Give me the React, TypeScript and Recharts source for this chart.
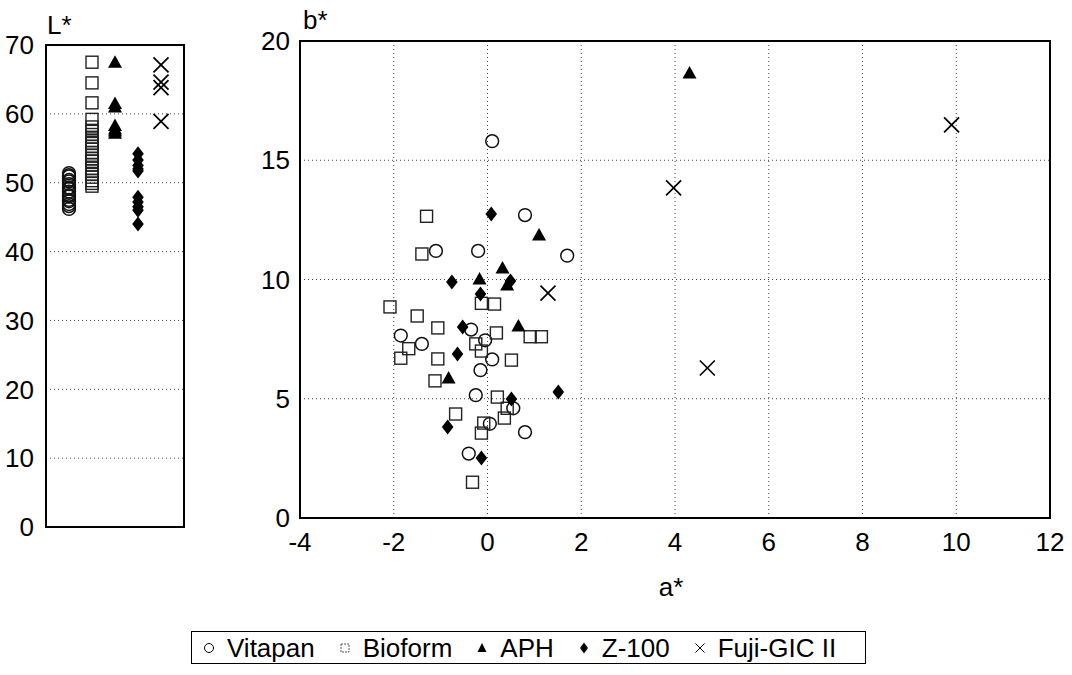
import React from 'react';
import { ScatterChart, Scatter, XAxis, YAxis, CartesianGrid, ReferenceArea } from 'recharts';

const FONT = '"Liberation Sans", Arial, sans-serif';

// L* chart: each material sits in its own column
const lColumns = [1, 2, 3, 4, 5];
const vitapanL = [46.2, 46.6, 46.9, 47.3, 47.5, 48.0, 48.2, 48.7, 49.1, 49.3, 49.8, 50.2, 50.4, 50.9, 51.1, 51.4];
const bioformL = [67.5, 64.5, 61.6, 59.2, 58.1, 57.6, 57.0, 56.6, 56.1, 55.7, 55.3, 54.9, 54.4, 54.0, 53.5, 53.1, 52.6, 52.1, 51.7, 51.2, 50.8, 50.3, 49.9, 49.5];
const aphL = [67.5, 61.5, 61.0, 58.3, 57.8, 57.5, 57.2];
const z100L = [54.2, 53.3, 52.5, 52.0, 51.7, 47.9, 47.2, 46.5, 46.0, 44.0];
const fujiL = [67.1, 64.6, 63.8, 58.9];
const lTicks = [0, 10, 20, 30, 40, 50, 60, 70];

// a*/b* chart
const vitapanA = [0.1, 0.8, -1.1, -0.2, 1.7, -0.35, -1.85, -1.4, -0.05, 0.1, -0.15, -0.25, 0.55, 0.05, 0.8, -0.4];
const vitapanB = [15.8, 12.7, 11.2, 11.2, 11.0, 7.9, 7.65, 7.3, 7.45, 6.65, 6.2, 5.15, 4.6, 3.95, 3.6, 2.7];
const bioformA = [-1.3, -1.4, -0.13, 0.15, -2.08, -1.5, -1.06, 0.19, 0.91, 1.15, -1.68, -1.85, -0.25, -0.13, -1.06, 0.51, -1.12, 0.21, 0.42, -0.68, 0.36, -0.08, -0.13, -0.32];
const bioformB = [12.65, 11.07, 9.0, 8.97, 8.85, 8.47, 7.97, 7.76, 7.6, 7.6, 7.1, 6.7, 7.3, 7.0, 6.67, 6.62, 5.75, 5.07, 4.6, 4.36, 4.19, 3.98, 3.56, 1.5];
const aphA = [4.31, 1.1, 0.32, -0.17, 0.42, 0.66, -0.83];
const aphB = [18.66, 11.87, 10.48, 10.02, 9.77, 8.05, 5.87];
const z100A = [0.08, -0.76, 0.49, -0.15, -0.53, -0.64, 1.51, 0.51, -0.85, -0.13];
const z100B = [12.75, 9.9, 9.94, 9.39, 8.01, 6.88, 5.28, 4.99, 3.82, 2.52];
const fujiA = [9.9, 3.97, 4.69, 1.29];
const fujiB = [16.48, 13.84, 6.29, 9.43];
const aTicks = [-4, -2, 0, 2, 4, 6, 8, 10, 12];
const bTicks = [0, 5, 10, 15, 20];

const lData = (col: number, vals: number[]) => vals.map(v => ({ x: col, y: v }));
const abData = (a: number[], b: number[]) => a.map((v, i) => ({ x: v, y: b[i] }));

const CircleMark = (p: any) => <circle cx={p.cx} cy={p.cy} r={6.4} fill="none" stroke="#111" strokeWidth={1.5} />;
const SquareMark = (p: any) => <rect x={p.cx - 6} y={p.cy - 6} width={12} height={12} fill="none" stroke="#222" strokeWidth={1.4} />;
const TriangleMark = (p: any) => (
  <polygon points={`${p.cx},${p.cy - 7} ${p.cx - 7},${p.cy + 5.5} ${p.cx + 7},${p.cy + 5.5}`} fill="#000" />
);
const DiamondMark = (p: any) => (
  <polygon points={`${p.cx},${p.cy - 7.5} ${p.cx + 5.8},${p.cy} ${p.cx},${p.cy + 7.5} ${p.cx - 5.8},${p.cy}`} fill="#000" />
);
const CrossMark = (p: any) => (
  <g stroke="#000" strokeWidth={1.7}>
    <line x1={p.cx - 7.5} y1={p.cy - 7.5} x2={p.cx + 7.5} y2={p.cy + 7.5} />
    <line x1={p.cx - 7.5} y1={p.cy + 7.5} x2={p.cx + 7.5} y2={p.cy - 7.5} />
  </g>
);

const tickStyle = { fontSize: 26, fill: '#000', fontFamily: FONT };
const gridStroke = '#444';

const legendItems = [
  { name: 'Vitapan', icon: <circle cx={6} cy={7} r={4.5} fill="none" stroke="#000" strokeWidth={1} /> },
  { name: 'Bioform', icon: <rect x={2} y={3} width={8} height={8} fill="none" stroke="#555" strokeWidth={1} strokeDasharray="2 1" /> },
  { name: 'APH', icon: <polygon points="6,2 1.5,11 10.5,11" fill="#000" /> },
  { name: 'Z-100', icon: <polygon points="6,1.5 10,7 6,12.5 2,7" fill="#000" /> },
  { name: 'Fuji-GIC II', icon: <g stroke="#000" strokeWidth={1}><line x1={1.5} y1={2.5} x2={10.5} y2={11.5} /><line x1={1.5} y1={11.5} x2={10.5} y2={2.5} /></g> },
];

export default function App() {
  return (
    <div style={{ position: 'absolute', left: 0, top: 0, width: 1072, height: 675, background: '#fff', fontFamily: FONT }}>
      <div style={{ position: 'absolute', left: 47, top: 12, fontSize: 26, lineHeight: 1 }}>L*</div>
      <div style={{ position: 'absolute', left: 303, top: 7, fontSize: 26, lineHeight: 1 }}>b*</div>
      <div style={{ position: 'absolute', left: 621, top: 574, width: 100, textAlign: 'center', fontSize: 26, lineHeight: 1 }}>a*</div>

      <div style={{ position: 'absolute', left: 0, top: 0 }}>
        <ScatterChart width={200} height={560} margin={{ top: 45, right: 16, bottom: 33, left: 0 }}>
          <CartesianGrid vertical={false} stroke={gridStroke} strokeDasharray="1 3" />
          <XAxis type="number" dataKey="x" domain={[0, 6]} hide />
          <YAxis type="number" dataKey="y" domain={[0, 70]} ticks={lTicks} width={46} axisLine={false} tickLine={false} tickSize={0} tickMargin={12} tick={tickStyle} interval={0} />
          <ReferenceArea x1={0} x2={6} y1={0} y2={70} fill="none" stroke="#000" strokeWidth={2} />
          <Scatter data={lData(lColumns[0], vitapanL)} shape={CircleMark} isAnimationActive={false} />
          <Scatter data={lData(lColumns[1], bioformL)} shape={SquareMark} isAnimationActive={false} />
          <Scatter data={lData(lColumns[2], aphL)} shape={TriangleMark} isAnimationActive={false} />
          <Scatter data={lData(lColumns[3], z100L)} shape={DiamondMark} isAnimationActive={false} />
          <Scatter data={lData(lColumns[4], fujiL)} shape={CrossMark} isAnimationActive={false} />
        </ScatterChart>
      </div>

      <div style={{ position: 'absolute', left: 220, top: 0 }}>
        <ScatterChart width={852} height={620} margin={{ top: 41, right: 22, bottom: 0, left: 0 }}>
          <CartesianGrid stroke={gridStroke} strokeDasharray="1 3" />
          <XAxis type="number" dataKey="x" domain={[-4, 12]} ticks={aTicks} height={102} axisLine={false} tickLine={false} tickSize={0} tickMargin={15} tick={tickStyle} interval={0} />
          <YAxis type="number" dataKey="y" domain={[0, 20]} ticks={bTicks} width={80} axisLine={false} tickLine={false} tickSize={0} tickMargin={10} tick={tickStyle} interval={0} />
          <ReferenceArea x1={-4} x2={12} y1={0} y2={20} fill="none" stroke="#000" strokeWidth={2} />
          <Scatter data={abData(vitapanA, vitapanB)} shape={CircleMark} isAnimationActive={false} />
          <Scatter data={abData(bioformA, bioformB)} shape={SquareMark} isAnimationActive={false} />
          <Scatter data={abData(aphA, aphB)} shape={TriangleMark} isAnimationActive={false} />
          <Scatter data={abData(z100A, z100B)} shape={DiamondMark} isAnimationActive={false} />
          <Scatter data={abData(fujiA, fujiB)} shape={CrossMark} isAnimationActive={false} />
        </ScatterChart>
      </div>

      <div style={{ position: 'absolute', left: 191, top: 631, width: 675, height: 33, boxSizing: 'border-box', border: '1.5px solid #000', display: 'flex', alignItems: 'center', paddingLeft: 11, fontSize: 26, lineHeight: 1 }}>
        {legendItems.map((it, i) => (
          <div key={it.name} style={{ display: 'flex', alignItems: 'center', marginLeft: i === 0 ? 0 : 24 }}>
            <svg width={12} height={14} style={{ marginRight: 12 }}>{it.icon}</svg>
            <span>{it.name}</span>
          </div>
        ))}
      </div>
    </div>
  );
}
